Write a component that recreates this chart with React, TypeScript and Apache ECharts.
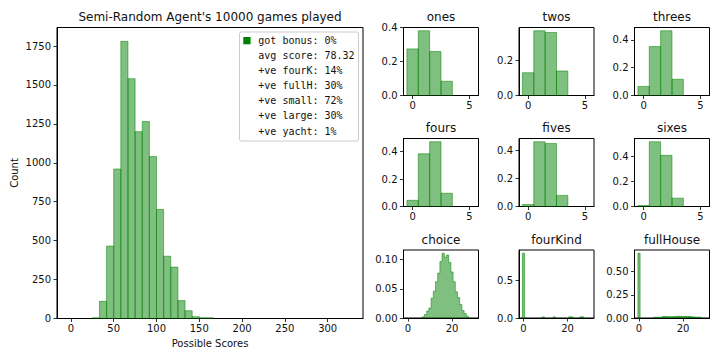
import { useEffect, useRef } from 'react';
import * as echarts from 'echarts';

const FONT = "'DejaVu Sans', sans-serif";
const MONO = "'DejaVu Sans Mono', monospace";
const BAR_FILL = 'rgba(0,128,0,0.5)';

// ---------- main histogram ----------
const MAIN_TITLE = "Semi-Random Agent's 10000 games played";
const MAIN_X_LABEL = 'Possible Scores';
const MAIN_Y_LABEL = 'Count';
const MAIN_BIN_WIDTH = 25 / 3;
const MAIN_RANGE = [0, 325];
const mainBinIndex = [3, 4, 5, 6, 7, 8, 9, 10, 11, 12, 13, 14, 15, 16, 17, 18, 19];
const mainCounts = [5, 110, 465, 960, 1780, 1540, 1200, 1265, 1040, 700, 400, 330, 115, 50, 12, 5, 5];
const mainXTicks = [0, 50, 100, 150, 200, 250, 300];
const mainYTicks = [0, 250, 500, 750, 1000, 1250, 1500, 1750];

const legendLines = [
  'got bonus: 0%',
  'avg score: 78.32',
  '+ve fourK: 14%',
  '+ve fullH: 30%',
  '+ve small: 72%',
  '+ve large: 30%',
  '+ve yacht: 1%',
];

// ---------- small panels ----------
const diceScores = [0, 1, 2, 3, 4, 5];
const ones = [0.275, 0.382, 0.259, 0.084, 0, 0];
const twos = [0.13, 0.37, 0.36, 0.14, 0, 0];
const threes = [0.065, 0.352, 0.466, 0.117, 0, 0];
const fours = [0.045, 0.385, 0.473, 0.097, 0, 0];
const fives = [0.014, 0.46, 0.447, 0.079, 0, 0];
const sixes = [0.008, 0.513, 0.405, 0.066, 0, 0];

const choiceScores = [7, 8, 9, 10, 11, 12, 13, 14, 15, 16, 17, 18, 19, 20, 21, 22, 23, 24, 25, 26, 27];
const choiceDensity = [0.002, 0.006, 0.012, 0.017, 0.034, 0.046, 0.062, 0.077, 0.097, 0.111, 0.104, 0.108, 0.095, 0.079, 0.062, 0.045, 0.035, 0.023, 0.013, 0.0075, 0.003];

const fourKindScores = [0, 9, 14, 21, 22, 26, 27];
const fourKindDensity = [0.86, 0.015, 0.015, 0.015, 0.015, 0.015, 0.015];

const fullHouseScores = [0, 7, 8, 9, 10, 11, 12, 13, 14, 15, 16, 17, 18, 19, 20, 21, 22, 23, 24, 25, 26, 27, 28];
const fullHouseDensity = [0.7, 0.008, 0.008, 0.008, 0.008, 0.016, 0.016, 0.016, 0.014, 0.014, 0.016, 0.018, 0.018, 0.018, 0.016, 0.018, 0.018, 0.016, 0.014, 0.012, 0.01, 0.01, 0.008];

const diceXTicks = [0, 5];
const comboXTicks = [0, 20];
const DICE_RANGE = [-0.5, 5.5];
const COMBO_RANGE = [-0.5, 30.5];

interface Panel {
  title: string;
  xs: number[];
  ys: number[];
  range: number[];
  xTicks: number[];
  yTicks: number[];
  decimals: number;
  step?: boolean;
}

const panels: Panel[] = [
  { title: 'ones', xs: diceScores, ys: ones, range: DICE_RANGE, xTicks: diceXTicks, yTicks: [0, 0.2, 0.4], decimals: 1 },
  { title: 'twos', xs: diceScores, ys: twos, range: DICE_RANGE, xTicks: diceXTicks, yTicks: [0, 0.2], decimals: 1 },
  { title: 'threes', xs: diceScores, ys: threes, range: DICE_RANGE, xTicks: diceXTicks, yTicks: [0, 0.2, 0.4], decimals: 1 },
  { title: 'fours', xs: diceScores, ys: fours, range: DICE_RANGE, xTicks: diceXTicks, yTicks: [0, 0.2, 0.4], decimals: 1 },
  { title: 'fives', xs: diceScores, ys: fives, range: DICE_RANGE, xTicks: diceXTicks, yTicks: [0, 0.2, 0.4], decimals: 1 },
  { title: 'sixes', xs: diceScores, ys: sixes, range: DICE_RANGE, xTicks: diceXTicks, yTicks: [0, 0.2, 0.4], decimals: 1 },
  { title: 'choice', xs: choiceScores, ys: choiceDensity, range: COMBO_RANGE, xTicks: comboXTicks, yTicks: [0, 0.05, 0.1], decimals: 2, step: true },
  { title: 'fourKind', xs: fourKindScores, ys: fourKindDensity, range: COMBO_RANGE, xTicks: comboXTicks, yTicks: [0, 0.5], decimals: 1 },
  { title: 'fullHouse', xs: fullHouseScores, ys: fullHouseDensity, range: COMBO_RANGE, xTicks: comboXTicks, yTicks: [0, 0.25, 0.5], decimals: 2 },
];

// ---------- layout ----------
const MAIN_GRID = { left: 57, top: 27.5, width: 306, height: 291 };
const COL_LEFT = [403.5, 519, 634.5];
const ROW_TOP = [27.5, 138.5, 250];
const PANEL_W = 75;
const PANEL_H = 68;

function axisStyle(ticks: number[], formatter: (v: number) => string, margin: number) {
  return {
    axisLine: { show: true, onZero: false, lineStyle: { color: '#000', width: 1 } },
    axisTick: { show: true, length: 3.5, lineStyle: { color: '#000', width: 0.8 }, customValues: ticks },
    axisLabel: { show: true, customValues: ticks, formatter, fontSize: 10, color: '#111', fontFamily: FONT, margin },
    splitLine: { show: false },
  };
}

function barRender(width: number, centered: boolean) {
  return (params: any, api: any) => {
    const x = api.value(0);
    const v = api.value(1);
    if (!v) return null;
    const x0 = centered ? x - width / 2 : x;
    const p0 = api.coord([x0, v]);
    const p1 = api.coord([x0 + width, 0]);
    return {
      type: 'rect',
      shape: { x: p0[0], y: p0[1], width: p1[0] - p0[0], height: p1[1] - p0[1] },
      style: { fill: BAR_FILL, stroke: BAR_FILL, lineWidth: 1 },
    };
  };
}

function buildOption() {
  const grids: any[] = [{ ...MAIN_GRID }];
  const xAxes: any[] = [];
  const yAxes: any[] = [];
  const series: any[] = [];
  const graphics: any[] = [];

  const mSpan = MAIN_RANGE[1] - MAIN_RANGE[0];
  xAxes.push({
    type: 'value', gridIndex: 0,
    min: MAIN_RANGE[0] - 0.05 * mSpan, max: MAIN_RANGE[1] + 0.05 * mSpan,
    ...axisStyle(mainXTicks, (v) => String(v), 5),
  });
  yAxes.push({
    type: 'value', gridIndex: 0, min: 0, max: Math.max(...mainCounts) * 1.05,
    ...axisStyle(mainYTicks, (v) => String(v), 6),
  });
  series.push({
    type: 'custom', xAxisIndex: 0, yAxisIndex: 0, clip: true,
    renderItem: barRender(MAIN_BIN_WIDTH, false),
    encode: { x: 0, y: 1 },
    data: mainBinIndex.map((k, i) => [MAIN_RANGE[0] + k * MAIN_BIN_WIDTH, mainCounts[i]]),
  });

  graphics.push({
    type: 'text', x: MAIN_GRID.left + MAIN_GRID.width / 2, y: 17,
    style: { text: MAIN_TITLE, font: `12px ${FONT}`, fill: '#111', textAlign: 'center', textVerticalAlign: 'middle' },
  });
  graphics.push({
    type: 'text', x: MAIN_GRID.left + MAIN_GRID.width / 2, y: 343,
    style: { text: MAIN_X_LABEL, font: `10px ${FONT}`, fill: '#111', textAlign: 'center', textVerticalAlign: 'middle' },
  });
  graphics.push({
    type: 'text', x: 14.5, y: MAIN_GRID.top + MAIN_GRID.height / 2, rotation: Math.PI / 2,
    style: { text: MAIN_Y_LABEL, font: `10px ${FONT}`, fill: '#111', textAlign: 'center', textVerticalAlign: 'middle' },
  });

  // legend
  const LX = 239.5, LY = 32, LW = 119, LH = 109;
  const legendChildren: any[] = [
    { type: 'rect', shape: { x: LX, y: LY, width: LW, height: LH, r: 2 }, style: { fill: 'rgba(255,255,255,0.8)', stroke: '#cccccc', lineWidth: 1 } },
    { type: 'rect', shape: { x: 243.3, y: 37, width: 7.3, height: 7.3 }, style: { fill: '#008000' } },
  ];
  legendLines.forEach((t, i) => {
    legendChildren.push({
      type: 'text', x: 258.3, y: 40.7 + i * 15.05,
      style: { text: t, font: `10px ${MONO}`, fill: '#111', textAlign: 'left', textVerticalAlign: 'middle' },
    });
  });
  graphics.push({ type: 'group', children: legendChildren, z: 100 });

  panels.forEach((p, idx) => {
    const gi = idx + 1;
    const col = idx % 3, row = Math.floor(idx / 3);
    const g = { left: COL_LEFT[col], top: ROW_TOP[row], width: PANEL_W, height: PANEL_H };
    grids.push(g);
    const span = p.range[1] - p.range[0];
    xAxes.push({
      type: 'value', gridIndex: gi,
      min: p.range[0] - 0.05 * span, max: p.range[1] + 0.05 * span,
      ...axisStyle(p.xTicks, (v) => String(v), 5),
    });
    yAxes.push({
      type: 'value', gridIndex: gi, min: 0, max: Math.max(...p.ys) * 1.05,
      ...axisStyle(p.yTicks, (v) => v.toFixed(p.decimals), 6),
    });
    if (p.step) {
      const pts: number[][] = [[p.xs[0] - 0.5, 0]];
      p.xs.forEach((x, i) => pts.push([x + 0.5, p.ys[i]]));
      pts.push([p.xs[p.xs.length - 1] + 0.5, 0]);
      series.push({
        type: 'line', xAxisIndex: gi, yAxisIndex: gi, step: 'start', symbol: 'none', showSymbol: false,
        lineStyle: { color: BAR_FILL, width: 1 },
        areaStyle: { color: BAR_FILL, opacity: 1, origin: 'start' },
        data: pts,
      });
    } else {
      series.push({
        type: 'custom', xAxisIndex: gi, yAxisIndex: gi, clip: true,
        renderItem: barRender(1, true),
        encode: { x: 0, y: 1 },
        data: p.xs.map((x, i) => [x, p.ys[i]]),
      });
    }
    graphics.push({
      type: 'text', x: g.left + g.width / 2, y: g.top - 10.5,
      style: { text: p.title, font: `12px ${FONT}`, fill: '#111', textAlign: 'center', textVerticalAlign: 'middle' },
    });
  });

  return {
    animation: false,
    backgroundColor: '#ffffff',
    textStyle: { fontFamily: FONT },
    grid: grids.map((g) => ({ ...g, show: true, borderColor: '#000', borderWidth: 1, backgroundColor: 'transparent', containLabel: false, outerBoundsMode: 'none' })),
    xAxis: xAxes,
    yAxis: yAxes,
    series,
    graphic: graphics,
  };
}

export default function App() {
  const ref = useRef<HTMLDivElement>(null);
  useEffect(() => {
    document.body.style.margin = '0';
    const chart = echarts.init(ref.current!, null, { renderer: 'svg' });
    chart.setOption(buildOption() as any);
    return () => chart.dispose();
  }, []);
  return <div ref={ref} style={{ width: 720, height: 360 }} />;
}
